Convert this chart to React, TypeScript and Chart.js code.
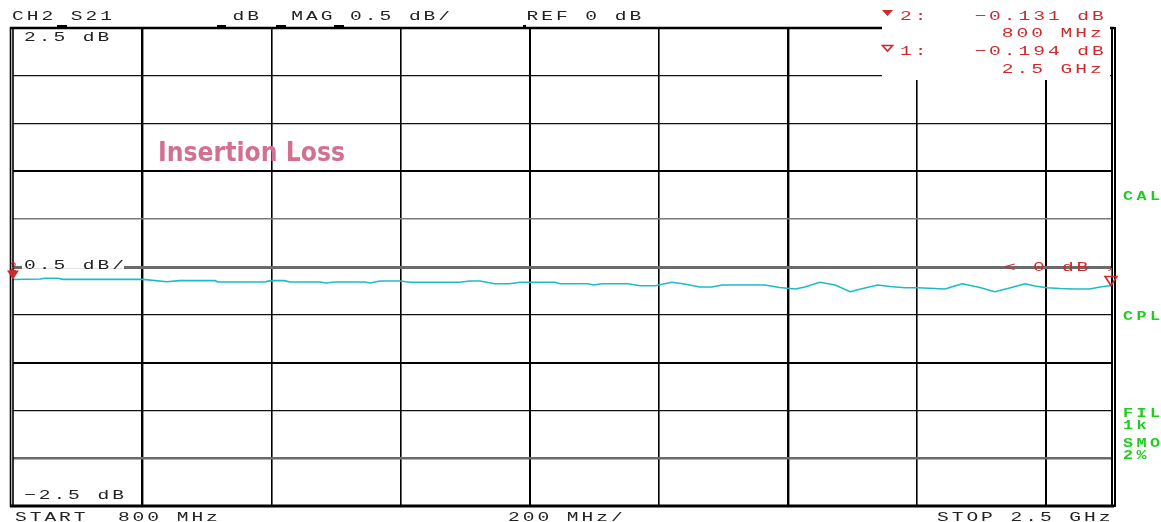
import React, { useEffect, useRef } from "react";
import { Chart, registerables } from "chart.js";

Chart.register(...registerables);

// ---- data ----
const FREQS_MHZ = [800, 842, 850, 870, 877, 1001, 1038, 1058, 1113, 1117, 1190, 1198, 1220, 1229, 1275, 1285, 1298, 1345, 1353, 1368, 1399, 1415, 1492, 1507, 1523, 1546, 1569, 1585, 1639, 1647, 1690, 1699, 1712, 1752, 1771, 1794, 1820, 1840, 1863, 1882, 1898, 1964, 1987, 2011, 2026, 2049, 2073, 2096, 2119, 2139, 2158, 2181, 2201, 2243, 2258, 2270, 2297, 2320, 2343, 2367, 2382, 2401, 2421, 2444, 2467, 2483, 2500];
const S21_DB = [-0.131, -0.126, -0.118, -0.118, -0.129, -0.129, -0.154, -0.143, -0.143, -0.157, -0.157, -0.143, -0.143, -0.157, -0.157, -0.167, -0.157, -0.157, -0.167, -0.146, -0.146, -0.160, -0.160, -0.146, -0.146, -0.175, -0.175, -0.160, -0.160, -0.175, -0.175, -0.188, -0.175, -0.175, -0.196, -0.196, -0.160, -0.178, -0.209, -0.209, -0.188, -0.188, -0.214, -0.230, -0.209, -0.160, -0.188, -0.258, -0.220, -0.188, -0.204, -0.217, -0.217, -0.230, -0.199, -0.175, -0.214, -0.258, -0.220, -0.175, -0.199, -0.217, -0.225, -0.230, -0.230, -0.209, -0.194];

const X_MIN = 800;
const X_MAX = 2500;
const X_GRID = [1000, 1200, 1400, 1600, 1800, 2000, 2200, 2400];
const Y_MIN = -2.5;
const Y_MAX = 2.5;
const Y_GRID = [2.0, 1.5, 1.0, 0.5, 0, -0.5, -1.0, -1.5, -2.0];

const MARKER_IDS = ["2", "1"];
const MARKER_FREQS = [800, 2500];
const MARKER_VALUES = [-0.131, -0.194];
const MARKER_FREQ_LABELS = ["800 MHz", "2.5 GHz"];

const HEADER = "CH2 S21        dB  MAG 0.5 dB/     REF 0 dB";
const TOP_LABEL = "2.5 dB";
const SCALE_LABEL = "0.5 dB/";
const BOTTOM_LABEL = "\u22122.5 dB";
const START_LABEL = "START  800 MHz";
const SPAN_LABEL = "200 MHz/";
const STOP_LABEL = "STOP 2.5 GHz";
const REF_LABEL = "< 0 dB";
const SIDE_LABELS = ["CAL", "CPL", "FIL", "1k", "SMO", "2%"];
const TITLE = "Insertion Loss";

// ---- styles ----
const RED = "#cc2a2d";
const GREEN = "#1fcc1f";
const TRACE = "#1cbcc6";
const PINK = "#d4708f";
const MONO = '"Liberation Mono", "DejaVu Sans Mono", monospace';
const PITCH = 14.7;

function yStyle(v: number): [string, number] {
  const k = Math.round(v * 10);
  if (k === 0) return ["#6b6b6b", 3];
  if (k === 5) return ["#7a7a7a", 1.5];
  if (k === -20) return ["#6b6b6b", 2.5];
  if (k === 10 || k === -10) return ["#000", 2];
  return ["#111", 1.2];
}
function xStyle(v: number): number {
  if (v === 1000 || v === 2000) return 2.4;
  if (v === 1600 || v === 2400) return 2;
  return 1.6;
}

function mono(
  ctx: CanvasRenderingContext2D,
  text: string,
  x: number,
  y: number,
  color: string,
  opts: { size?: number; sx?: number; pitch?: number; weight?: string } = {}
) {
  const size = opts.size ?? 13.5;
  const sx = opts.sx ?? 1.45;
  const pitch = opts.pitch ?? PITCH;
  ctx.save();
  ctx.fillStyle = color;
  ctx.font = `${opts.weight ?? "normal"} ${size}px ${MONO}`;
  ctx.textBaseline = "alphabetic";
  ctx.textAlign = "left";
  for (let i = 0; i < text.length; i++) {
    const ch = text[i];
    if (ch === " ") continue;
    ctx.save();
    ctx.translate(x + i * pitch, y);
    ctx.scale(sx, 1);
    ctx.fillText(ch, 0, 0);
    ctx.restore();
  }
  ctx.restore();
}
function monoRight(ctx: CanvasRenderingContext2D, text: string, xEnd: number, y: number, color: string) {
  const start = xEnd - (text.length - 1) * PITCH - 11;
  mono(ctx, text, start, y, color);
}

function tri(ctx: CanvasRenderingContext2D, cx: number, tipY: number, hw: number, h: number, color: string, filled: boolean) {
  ctx.save();
  ctx.beginPath();
  ctx.moveTo(cx - hw, tipY - h);
  ctx.lineTo(cx + hw, tipY - h);
  ctx.lineTo(cx, tipY);
  ctx.closePath();
  if (filled) {
    ctx.fillStyle = color;
    ctx.fill();
  } else {
    ctx.strokeStyle = color;
    ctx.lineWidth = 1.6;
    ctx.stroke();
  }
  ctx.restore();
}

const overlay = {
  id: "overlay",
  afterDraw(chart: any) {
    const ctx: CanvasRenderingContext2D = chart.ctx;
    const xs = chart.scales.x;
    const ys = chart.scales.y;
    const { left, right, top, bottom } = chart.chartArea;
    const y0 = ys.getPixelForValue(0);

    ctx.save();
    // borders
    ctx.strokeStyle = "#000";
    ctx.lineWidth = 1.6;
    ctx.beginPath();
    ctx.moveTo(left - 2.5, top - 1);
    ctx.lineTo(left - 2.5, bottom + 1);
    ctx.moveTo(left, top - 1);
    ctx.lineTo(left, bottom + 1);
    ctx.stroke();
    ctx.lineWidth = 2.6;
    ctx.beginPath();
    ctx.moveTo(left - 3, top);
    ctx.lineTo(right + 3, top);
    ctx.stroke();
    ctx.lineWidth = 3;
    ctx.beginPath();
    ctx.moveTo(left - 3, bottom);
    ctx.lineTo(right + 3, bottom);
    ctx.stroke();

    // marker box
    ctx.fillStyle = "#fff";
    ctx.fillRect(882, 0, right - 882 - 1, 80);

    ctx.strokeStyle = "#000";
    ctx.lineWidth = 2;
    ctx.beginPath();
    ctx.moveTo(right + 1, top - 1);
    ctx.lineTo(right + 1, bottom + 1);
    ctx.stroke();
    ctx.beginPath();
    ctx.moveTo(right + 4, top - 1);
    ctx.lineTo(right + 4, bottom + 1);
    ctx.stroke();

    // header tick marks
    ctx.fillStyle = "#000";
    [[57, 10], [217, 9], [276, 10], [334, 10], [523, 3]].forEach(([x, w]) => ctx.fillRect(x, top - 3, w, 2));

    // header text
    mono(ctx, HEADER, 12, 20, "#222");

    // marker readouts (marker 2 first, then marker 1)
    tri(ctx, 887.5, 16, 5.5, 6, RED, true);
    mono(ctx, MARKER_IDS[0] + ":", 900, 20, RED);
    monoRight(ctx, "\u2212" + Math.abs(MARKER_VALUES[0]).toFixed(3) + " dB", 1103, 20, RED);
    monoRight(ctx, MARKER_FREQ_LABELS[0], 1101, 37, RED);
    tri(ctx, 887.5, 51, 5, 5.5, RED, false);
    mono(ctx, MARKER_IDS[1] + ":", 900, 55, RED);
    monoRight(ctx, "\u2212" + Math.abs(MARKER_VALUES[1]).toFixed(3) + " dB", 1103, 55, RED);
    monoRight(ctx, MARKER_FREQ_LABELS[1], 1101, 73, RED);

    // left labels
    mono(ctx, TOP_LABEL, 24, 41, "#222");
    ctx.fillStyle = "#fff";
    ctx.fillRect(22, y0 - 9, 102, 8);
    ctx.fillRect(22, y0 - 1.8, 102, 3.6);
    mono(ctx, SCALE_LABEL, 24, y0 + 2, "#222");
    mono(ctx, BOTTOM_LABEL, 24, bottom - 7, "#222");

    // bottom labels
    mono(ctx, START_LABEL, 15, 521, "#222");
    mono(ctx, SPAN_LABEL, 508, 521, "#222");
    mono(ctx, STOP_LABEL, 937, 521, "#222");

    // ref indicator
    mono(ctx, REF_LABEL, 1004, y0 + 4, RED, { pitch: 14.5 });

    // side labels
    const sideY = [200, 320, 417, 429, 447, 459];
    SIDE_LABELS.forEach((t, i) => mono(ctx, t, 1123, sideY[i], GREEN, { size: 12, sx: 1.4, pitch: 13.5, weight: "bold" }));

    // title
    ctx.save();
    ctx.font = `bold 27px "DejaVu Sans"`;
    const w = ctx.measureText(TITLE).width;
    ctx.translate(158, 161);
    ctx.scale(187 / w, 1);
    ctx.fillStyle = PINK;
    ctx.fillText(TITLE, 0, 0);
    ctx.restore();

    // trace markers
    MARKER_FREQS.forEach((f, i) => {
      const px = xs.getPixelForValue(f);
      const py = ys.getPixelForValue(MARKER_VALUES[i]);
      tri(ctx, px, py, 6, 9, RED, i === 0);
      ctx.save();
      ctx.font = `12px ${MONO}`;
      ctx.fillStyle = RED;
      ctx.textAlign = "center";
      ctx.fillText(MARKER_IDS[i], px, py - 9);
      ctx.restore();
    });
    ctx.restore();
  },
};

export default function App() {
  const ref = useRef<HTMLCanvasElement | null>(null);
  useEffect(() => {
    if (!ref.current) return;
    const chart = new Chart(ref.current, {
      type: "line",
      data: {
        datasets: [
          {
            data: FREQS_MHZ.map((f, i) => ({ x: f, y: S21_DB[i] })),
            borderColor: TRACE,
            borderWidth: 1.6,
            pointRadius: 0,
            tension: 0,
            fill: false,
          },
        ],
      },
      options: {
        animation: false,
        responsive: false,
        events: [],
        layout: { padding: { left: 13, right: 50, top: 28, bottom: 16 } },
        plugins: { legend: { display: false }, tooltip: { enabled: false }, title: { display: false } },
        scales: {
          x: {
            type: "linear",
            min: X_MIN,
            max: X_MAX,
            afterBuildTicks: (s: any) => {
              s.ticks = X_GRID.map((v) => ({ value: v }));
            },
            ticks: { display: false },
            border: { display: false },
            grid: {
              drawTicks: false,
              color: "#000",
              lineWidth: (c: any) => xStyle(c.tick?.value),
            },
          },
          y: {
            type: "linear",
            min: Y_MIN,
            max: Y_MAX,
            afterBuildTicks: (s: any) => {
              s.ticks = Y_GRID.map((v) => ({ value: v }));
            },
            ticks: { display: false },
            border: { display: false },
            grid: {
              drawTicks: false,
              color: (c: any) => yStyle(c.tick?.value ?? 0)[0],
              lineWidth: (c: any) => yStyle(c.tick?.value ?? 0)[1],
            },
          },
        },
      },
      plugins: [overlay],
    });
    return () => chart.destroy();
  }, []);
  return (
    <div style={{ position: "fixed", left: 0, top: 0, width: 1161, height: 522, background: "#fff" }}>
      <canvas ref={ref} width={1161} height={522} style={{ display: "block" }} />
    </div>
  );
}
